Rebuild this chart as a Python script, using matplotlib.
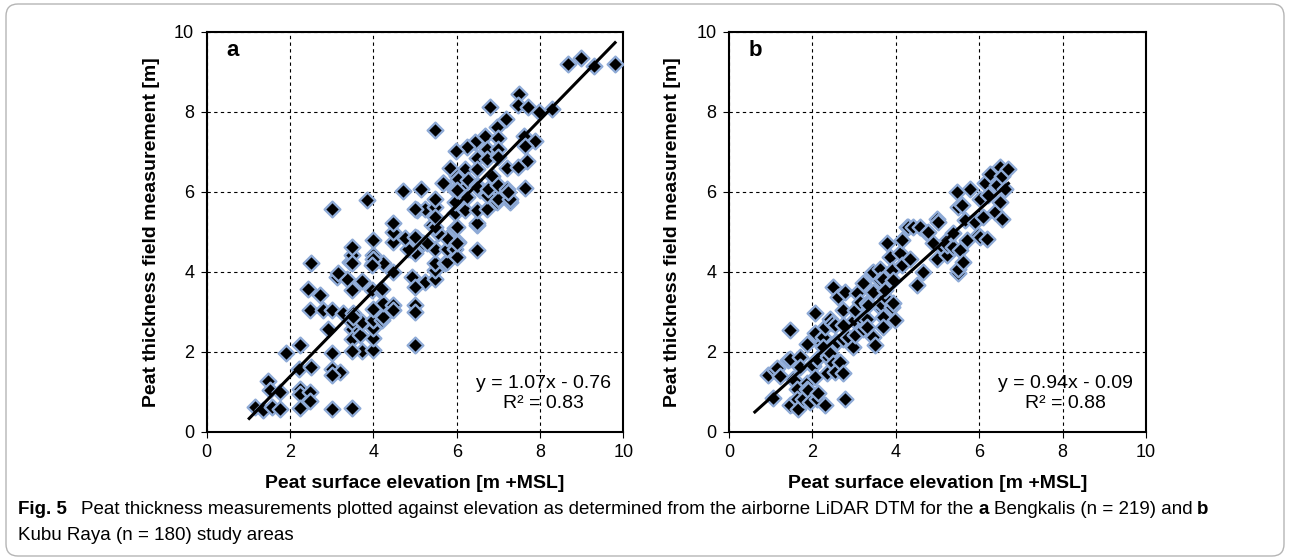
import matplotlib.pyplot as plt
import numpy as np
from matplotlib.patches import FancyBboxPatch
from matplotlib.transforms import IdentityTransform

W, H = 1290, 560

# (elevation, peat thickness)
pts_a = [(1.16, 0.63), (1.36, 0.54), (1.56, 0.63), (1.76, 0.58), (1.48, 1.27), (1.52, 1.04), (1.76, 1.0),
         (2.24, 1.06), (2.24, 0.94), (2.48, 1.0), (2.48, 0.77), (2.24, 0.60), (3.0, 0.56), (3.48, 0.60),
         (1.9, 1.97), (2.24, 2.17), (2.22, 1.56), (2.5, 1.63), (3.0, 1.97), (3.0, 1.58), (3.2, 1.5),
         (3.0, 1.42), (2.92, 2.58), (2.42, 3.56), (2.72, 3.42), (2.48, 3.04), (2.8, 3.04), (3.0, 3.04),
         (3.28, 2.98), (3.5, 2.98), (2.5, 4.21),
         (3.48, 2.58), (3.48, 2.31), (3.72, 2.02), (3.48, 2.02), (3.98, 2.04), (3.98, 2.35), (4.0, 2.6),
         (3.68, 2.42), (3.48, 2.75), (3.72, 2.75), (3.98, 2.79), (4.2, 2.79), (4.24, 2.88), (4.0, 3.06),
         (3.52, 2.88), (4.24, 3.21), (4.48, 3.17), (5.0, 3.17), (5.0, 3.0), (5.0, 2.17), (4.48, 3.04),
         (3.48, 3.54), (3.96, 3.54), (4.16, 3.54), (3.12, 3.88), (3.36, 3.83), (3.72, 3.77), (3.16, 3.96),
         (4.2, 3.58), (3.44, 4.25), (3.48, 4.42), (3.48, 4.21), (3.48, 4.63), (3.98, 4.42), (3.98, 4.21),
         (4.24, 4.21), (4.0, 4.33), (3.96, 4.17), (4.0, 4.79), (4.48, 4.0), (4.92, 3.88), (5.24, 3.75),
         (5.48, 3.83), (5.0, 3.63), (5.48, 4.04), (5.48, 4.21), (5.72, 4.21), (5.76, 4.25), (4.88, 4.58),
         (5.0, 4.46), (4.84, 4.58), (5.2, 4.71), (5.48, 4.58), (5.76, 4.58), (5.96, 4.58), (6.48, 4.54),
         (6.0, 4.38), (6.04, 4.75), (5.76, 4.84), (6.0, 4.71), (5.28, 4.71), (4.48, 4.75), (4.76, 4.84),
         (5.04, 4.84), (5.56, 4.96), (5.4, 5.17), (4.48, 5.0), (4.48, 5.21), (5.0, 4.88), (5.48, 5.13),
         (5.96, 5.09), (6.0, 5.13), (6.48, 5.17), (6.48, 5.21), (5.04, 5.54), (5.24, 5.58), (5.48, 5.63),
         (5.48, 5.38), (5.96, 5.46), (6.2, 5.54), (6.48, 5.54), (6.72, 5.58), (5.0, 5.57), (3.0, 5.57),
         (3.84, 5.79), (4.70, 6.03), (5.14, 6.07), (5.48, 5.83), (5.68, 6.21), (5.96, 6.04), (6.2, 6.21),
         (6.56, 6.04), (5.96, 5.75), (6.24, 5.88), (6.72, 5.92), (6.96, 5.75), (7.28, 5.75), (7.0, 5.81),
         (7.28, 5.83),
         (5.49, 7.54), (6.80, 8.11), (7.49, 8.44), (7.46, 8.17), (7.70, 8.12), (7.97, 8.0), (8.28, 8.08),
         (8.66, 9.19), (8.98, 9.34), (9.30, 9.14), (9.80, 9.19), (7.18, 7.81), (6.96, 7.63), (6.68, 7.40),
         (7.0, 7.35), (6.44, 7.25), (7.62, 7.40), (7.88, 7.27), (7.64, 7.15), (6.24, 7.12), (5.98, 7.03),
         (6.72, 7.06), (7.0, 7.08), (6.48, 6.85), (6.72, 6.81), (7.0, 6.86), (7.68, 6.77), (5.84, 6.60),
         (6.2, 6.58), (6.48, 6.56), (7.2, 6.60), (7.48, 6.62), (6.84, 6.40), (6.0, 6.40), (6.04, 6.33),
         (6.26, 6.29), (5.66, 6.21), (6.0, 6.04), (6.48, 6.17), (6.48, 6.13), (6.74, 6.06), (6.98, 6.17),
         (7.2, 6.06), (7.64, 6.10), (7.24, 6.0)]

pts_b = [(0.94, 1.42), (1.06, 0.85), (1.10, 1.54), (1.14, 1.60), (1.22, 1.40), (1.46, 2.54), (1.42, 1.79),
         (1.46, 1.83), (1.54, 1.33), (1.58, 1.27), (1.50, 0.69), (1.46, 0.67), (1.62, 1.06), (1.62, 0.83),
         (1.66, 0.56), (1.70, 1.88), (1.70, 1.63), (1.78, 0.83), (1.86, 2.19), (1.86, 1.21), (1.86, 1.08),
         (1.90, 1.04), (1.94, 0.75), (1.98, 1.67), (2.02, 1.65), (2.06, 1.38), (2.06, 2.96), (2.06, 2.46),
         (2.10, 1.83), (2.10, 0.83), (2.14, 0.96), (2.22, 2.21), (2.26, 2.38), (2.26, 2.13), (2.30, 2.63),
         (2.30, 0.67), (2.34, 1.46), (2.38, 1.88), (2.42, 1.96), (2.42, 2.83), (2.46, 2.71), (2.50, 1.71),
         (2.50, 3.63), (2.54, 2.67), (2.54, 2.25), (2.54, 1.50), (2.58, 2.25), (2.62, 3.38), (2.66, 1.75),
         (2.74, 3.04), (2.74, 2.67), (2.74, 2.33), (2.74, 1.46), (2.78, 3.50), (2.78, 0.81), (2.86, 2.38),
         (2.98, 2.13), (3.00, 2.79), (3.02, 3.04), (3.02, 2.42), (3.06, 3.46), (3.14, 3.25), (3.18, 2.83),
         (3.22, 3.71), (3.22, 2.58), (3.30, 2.83), (3.30, 3.21), (3.30, 2.63), (3.34, 3.17), (3.42, 3.96),
         (3.46, 4.00), (3.46, 3.50), (3.46, 2.38), (3.50, 2.17), (3.62, 4.08), (3.62, 3.79), (3.66, 3.08),
         (3.66, 3.17), (3.70, 3.83), (3.70, 2.88), (3.70, 2.63), (3.74, 3.38), (3.74, 3.54), (3.78, 4.71),
         (3.86, 4.38), (3.90, 4.04), (3.90, 3.13), (3.94, 3.79), (3.94, 3.21), (3.98, 2.79), (4.10, 4.46),
         (4.14, 4.79), (4.14, 4.17), (4.26, 5.13), (4.30, 5.13), (4.34, 4.33), (4.42, 5.13), (4.50, 3.67),
         (4.58, 5.13), (4.66, 4.00), (4.74, 4.96), (4.78, 5.00), (4.90, 4.71), (4.98, 5.33), (4.98, 4.33),
         (5.02, 5.25), (5.14, 4.60), (5.22, 4.79), (5.22, 4.42), (5.22, 4.67), (5.38, 4.63), (5.38, 4.96),
         (5.47, 6.00), (5.50, 5.63), (5.50, 3.96), (5.50, 4.08), (5.54, 4.54), (5.58, 5.67), (5.62, 4.25),
         (5.66, 5.29), (5.70, 4.79), (5.78, 6.06), (5.90, 5.25), (5.98, 4.92), (6.02, 5.83), (6.02, 4.88),
         (6.10, 5.38), (6.14, 6.21), (6.18, 4.83), (6.22, 5.92), (6.26, 6.44), (6.38, 5.50), (6.42, 6.17),
         (6.50, 6.63), (6.50, 5.75), (6.54, 6.39), (6.54, 5.33), (6.62, 6.08), (6.70, 6.58)]

fit_a = (1.07, -0.76)
fit_b = (0.94, -0.09)
r2_a = 0.83
r2_b = 0.88
line_x_a = [1.02, 9.80]   # extent of the trend lines
line_x_b = [0.62, 6.70]
ticks = [0, 2, 4, 6, 8, 10]
xlabel = "Peat surface elevation [m +MSL]"
ylabel = "Peat thickness field measurement [m]"

plt.rcParams['font.family'] = ['Liberation Sans', 'DejaVu Sans']

fig = plt.figure(figsize=(W / 100, H / 100), dpi=100)

# rounded frame round the whole figure
frame = FancyBboxPatch((6, 4), W - 12, H - 8, boxstyle="round,pad=0,rounding_size=12",
                       transform=IdentityTransform(), fc='none', ec='#b5b5b5', lw=1.0)
fig.patches.append(frame)


def panel(rect, pts, fit, r2, line_x, label):
    ax = fig.add_axes(rect)
    x, y = np.array(pts).T
    ax.scatter(x, y, marker='D', s=64, c='black', edgecolors='#8eaad6', linewidths=1.7, zorder=3)
    lx = np.array(line_x)
    ax.plot(lx, fit[0] * lx + fit[1], color='black', lw=2.2, zorder=4)
    ax.set_xlim(0, 10)
    ax.set_ylim(0, 10)
    ax.set_xticks(ticks)
    ax.set_yticks(ticks)
    ax.grid(True, color='black', ls=(0, (3, 3)), lw=0.8)
    ax.set_axisbelow(True)
    ax.tick_params(labelsize=13, length=4, pad=5, direction='out')
    for s in ax.spines.values():
        s.set_linewidth(1.5)
    ax.set_xlabel(xlabel, fontsize=14, fontweight='bold')
    ax.set_ylabel(ylabel, fontsize=14, fontweight='bold')
    ax.xaxis.set_label_coords(0.5, -0.108)
    ax.text(0.063, 0.954, label, transform=ax.transAxes, fontsize=16, fontweight='bold',
            ha='center', va='center')
    sign = '-' if fit[1] < 0 else '+'
    ax.text(0.808, 0.121, f"y = {fit[0]:.2f}x {sign} {abs(fit[1]):.2f}", transform=ax.transAxes,
            fontsize=14, ha='center', va='center')
    ax.text(0.808, 0.071, f"R² = {r2:.2f}", transform=ax.transAxes, fontsize=14,
            ha='center', va='center')
    return ax


ax1 = panel([206.7 / W, 1 - 431.7 / H, 416.7 / W, 400 / H], pts_a, fit_a, r2_a, line_x_a, 'a')
ax2 = panel([729 / W, 1 - 431.7 / H, 417 / W, 400 / H], pts_b, fit_b, r2_b, line_x_b, 'b')
ax1.yaxis.set_label_coords(-0.112, 0.5)
ax2.yaxis.set_label_coords(-0.115, 0.5)

# caption, written in runs so that some words can be bold
cap1 = [("Fig. 5", 'bold'), ("Peat thickness measurements plotted against elevation as determined from "
        "the airborne LiDAR DTM for the", 'normal'), ("a", 'bold'), ("Bengkalis (n = 219) and", 'normal'),
        ("b", 'bold')]
cap2 = [("Kubu Raya (n = 180) study areas", 'normal')]
gaps1 = [0, 14, 5, 5, 5]

rend = fig.canvas.get_renderer()


def put_runs(x, y, runs, gaps, size):
    for (s, w), g in zip(runs, gaps):
        x += g
        t = fig.text(x / W, 1 - y / H, s, fontsize=size, fontweight=w, va='baseline', ha='left')
        x = t.get_window_extent(renderer=rend).x1


put_runs(18, 514, cap1, gaps1, 13.5)
put_runs(18, 540, cap2, [0], 13.5)

fig.savefig('out.png', dpi=100)
